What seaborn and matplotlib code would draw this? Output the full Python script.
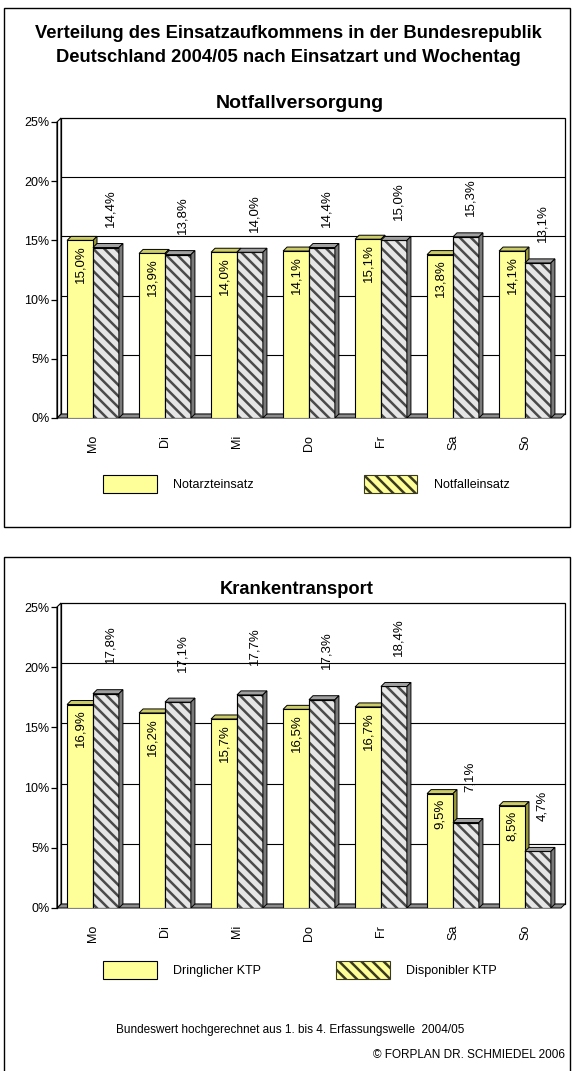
import matplotlib
matplotlib.use("Agg")
import numpy as np
import pandas as pd
import matplotlib.pyplot as plt
import matplotlib.transforms as mtransforms
from matplotlib.patches import Polygon, Rectangle, Patch
from matplotlib.ticker import FuncFormatter
import seaborn as sns

# ---- data -------------------------------------------------------------
days = ["Mo", "Di", "Mi", "Do", "Fr", "Sa", "So"]
notarzteinsatz = [15.0, 13.9, 14.0, 14.1, 15.1, 13.8, 14.1]
notfalleinsatz = [14.4, 13.8, 14.0, 14.4, 15.0, 15.3, 13.1]
dringlicher_ktp = [16.9, 16.2, 15.7, 16.5, 16.7, 9.5, 8.5]
disponibler_ktp = [17.8, 17.1, 17.7, 17.3, 18.4, 7.1, 4.7]
y_ticks = [0, 5, 10, 15, 20, 25]

title_lines = ["Verteilung des Einsatzaufkommens in der Bundesrepublik",
               "Deutschland 2004/05 nach Einsatzart und Wochentag"]
footer = "Bundeswert hochgerechnet aus 1. bis 4. Erfassungswelle  2004/05"
copyright_note = "\u00a9 FORPLAN DR. SCHMIEDEL 2006"

# ---- style ------------------------------------------------------------
sns.set_theme(style="white")
plt.rcParams["font.family"] = ["Liberation Sans", "DejaVu Sans"]
plt.rcParams["text.color"] = "black"
plt.rcParams["hatch.linewidth"] = 1.8

YELLOW, YELLOW_TOP, YELLOW_SIDE = "#FFFF99", "#CCCC66", "#99993A"
GREY, GREY_TOP, GREY_SIDE = "#E6E6E6", "#A0A0A0", "#7A7A7A"
HATCH_COLOR = "#4A4A4A"
HATCH = "\\\\\\"
DEPTH = 4  # pseudo-3D depth in pixels

W, H = 574, 1071
fig = plt.figure(figsize=(W / 100, H / 100), dpi=100)
fig.patch.set_facecolor("white")


def px_rect(x0, y0, x1, y1):
    """pixel box (origin top-left) -> figure-fraction rect"""
    return [x0 / W, 1 - y1 / H, (x1 - x0) / W, (y1 - y0) / H]


def fmt(v):
    return f"{v:.1f}%".replace(".", ",")


def panel(rect, first, second, names, lift):
    ax = fig.add_axes(rect)
    df = pd.DataFrame({"Tag": days * 2,
                       "Anteil": first + second,
                       "Art": [names[0]] * len(days) + [names[1]] * len(days)})
    sns.barplot(data=df, x="Tag", y="Anteil", hue="Art", palette=[YELLOW, GREY],
                saturation=1, width=0.72, errorbar=None, edgecolor="black",
                linewidth=0.8, legend=False, ax=ax, zorder=3)
    ax.set_xlim(-0.5, len(days) - 0.5)
    ax.set_ylim(0, 25)
    ax.set_facecolor("none")

    back = mtransforms.offset_copy(ax.transData, fig=fig, x=DEPTH, y=DEPTH, units="dots")
    inv = ax.transData.inverted()
    origin = ax.transData.transform((0, 0))
    ddx, ddy = inv.transform(origin + DEPTH) - inv.transform(origin)

    x_lo, x_hi = ax.get_xlim()
    # back wall, gridlines, floor, left wall
    ax.add_patch(Rectangle((x_lo, 0), x_hi - x_lo, 25, transform=back, fill=False,
                           edgecolor="black", linewidth=0.9, clip_on=False, zorder=1))
    for t in y_ticks[1:-1]:
        ax.plot([x_lo, x_hi], [t, t], transform=back, color="black",
                linewidth=0.8, clip_on=False, zorder=1)
    ax.add_patch(Polygon([(x_lo, 0), (x_hi, 0), (x_hi + ddx, ddy), (x_lo + ddx, ddy)],
                         closed=True, facecolor="#8C8C8C", edgecolor="black",
                         linewidth=0.7, clip_on=False, zorder=1.5))
    ax.add_patch(Polygon([(x_lo, 0), (x_lo + ddx, ddy), (x_lo + ddx, 25 + ddy), (x_lo, 25)],
                         closed=True, facecolor="white", edgecolor="black",
                         linewidth=0.8, clip_on=False, zorder=1.6))

    front_a, front_b = ax.containers[0], ax.containers[1]
    for bars, top_c, side_c, z in ((front_a, YELLOW_TOP, YELLOW_SIDE, 2.5),
                                   (front_b, GREY_TOP, GREY_SIDE, 3.5)):
        for bar in bars:
            x0, w, h = bar.get_x(), bar.get_width(), bar.get_height()
            ax.add_patch(Polygon([(x0, h), (x0 + w, h), (x0 + w + ddx, h + ddy), (x0 + ddx, h + ddy)],
                                 closed=True, facecolor=top_c, edgecolor="black",
                                 linewidth=0.7, zorder=z))
            ax.add_patch(Polygon([(x0 + w, 0), (x0 + w, h), (x0 + w + ddx, h + ddy), (x0 + w + ddx, ddy)],
                                 closed=True, facecolor=side_c, edgecolor="black",
                                 linewidth=0.7, zorder=z))
    for bar in front_b:
        bar.set_hatch(HATCH)
        bar.set_edgecolor(HATCH_COLOR)
        # crisp black outline on top of the grey hatching
        ax.add_patch(Rectangle((bar.get_x(), 0), bar.get_width(), bar.get_height(),
                               fill=False, edgecolor="black", linewidth=0.8, zorder=3.2))

    for bar, v in zip(front_a, first):
        ax.annotate(fmt(v), xy=(bar.get_x() + bar.get_width() / 2, v), xytext=(0, -3.5),
                    textcoords="offset points", rotation=90, ha="center", va="top",
                    fontsize=9.5, color="black", zorder=5)
    for bar, v in zip(front_b, second):
        ax.annotate(fmt(v), xy=(bar.get_x() + bar.get_width() / 2 + ddx, v + ddy),
                    xytext=(0, lift), textcoords="offset points", rotation=90,
                    ha="center", va="bottom", fontsize=9.5, color="black", zorder=5)

    for s in ("top", "right", "bottom"):
        ax.spines[s].set_visible(False)
    ax.spines["left"].set_color("black")
    ax.spines["left"].set_linewidth(0.9)
    ax.spines["left"].set_zorder(2)
    ax.set_yticks(y_ticks)
    ax.yaxis.set_major_formatter(FuncFormatter(lambda v, _: f"{v:.0f}%"))
    ax.tick_params(axis="y", left=True, direction="out", length=4, width=0.9,
                   labelsize=9, pad=1.5, colors="black")
    ax.tick_params(axis="x", bottom=False, labelsize=9, pad=6, labelrotation=90,
                   colors="black")
    ax.set_xlabel("")
    ax.set_ylabel("")
    ax.grid(False)
    return ax


def legend(names, anchor_px, colspacing):
    handles = [Patch(facecolor=YELLOW, edgecolor="black", linewidth=0.8, label=names[0]),
               Patch(facecolor=YELLOW, edgecolor="#3A3A20", linewidth=0.8, hatch="\\\\\\",
                     label=names[1])]
    fig.legend(handles=handles, loc="center left",
               bbox_to_anchor=(anchor_px[0] / W, 1 - anchor_px[1] / H),
               ncol=2, frameon=False, borderpad=0, borderaxespad=0,
               handlelength=4.3, handleheight=1.8, handletextpad=1.3,
               columnspacing=colspacing, fontsize=9, labelcolor="black")


# ---- frames -----------------------------------------------------------
for (x0, y0, x1, y1) in ((4, 8, 570, 527), (4, 557, 570, 1080)):
    fig.add_artist(Rectangle((x0 / W, 1 - y1 / H), (x1 - x0) / W, (y1 - y0) / H,
                             transform=fig.transFigure, fill=False,
                             edgecolor="black", linewidth=1.0))

# ---- titles -----------------------------------------------------------
fig.text(288 / W, 1 - 33 / H, title_lines[0], ha="center", va="center",
         fontsize=13.2, fontweight="bold", color="black")
fig.text(288 / W, 1 - 57 / H, title_lines[1], ha="center", va="center",
         fontsize=13.2, fontweight="bold", color="black")
fig.text(300 / W, 1 - 103 / H, "Notfallversorgung", ha="center", va="center",
         fontsize=14, fontweight="bold", color="black")
fig.text(297 / W, 1 - 590 / H, "Krankentransport", ha="center", va="center",
         fontsize=13.2, fontweight="bold", color="black")

# ---- charts -----------------------------------------------------------
names_top = ["Notarzteinsatz", "Notfalleinsatz"]
names_bottom = ["Dringlicher KTP", "Disponibler KTP"]
panel(px_rect(57, 122, 561, 418), notarzteinsatz, notfalleinsatz, names_top, 12)
panel(px_rect(57, 607, 561, 908), dringlicher_ktp, disponibler_ktp, names_bottom, 19)

legend(names_top, (103, 484), 8.8)
legend(names_bottom, (103, 970), 6.0)

fig.text(290 / W, 1 - 1030 / H, footer, ha="center", va="center", fontsize=8.5,
         color="black")
fig.text(565 / W, 1 - 1055 / H, copyright_note, ha="right", va="center", fontsize=8.5,
         color="black")

fig.savefig("out.png", dpi=100, facecolor="white")
